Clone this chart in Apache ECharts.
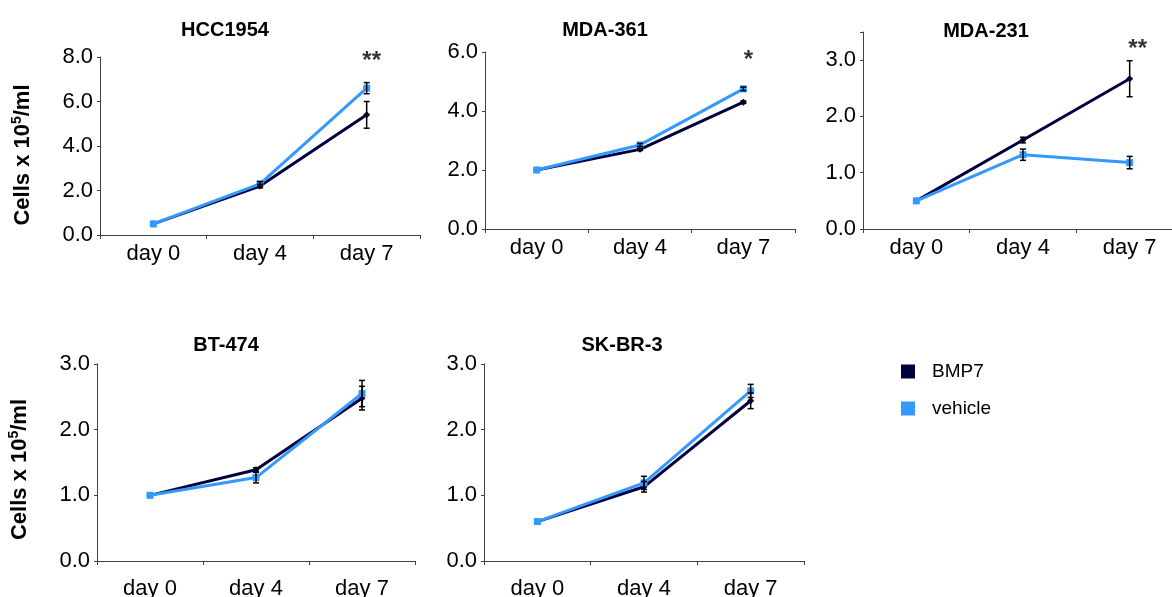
<!DOCTYPE html>
<html><head><meta charset="utf-8">
<script src="https://cdn.jsdelivr.net/npm/echarts@6/dist/echarts.min.js"></script>
<style>html,body{margin:0;padding:0;background:#fff}#c{width:1172px;height:597px}</style>
</head><body><div id="c"></div>
<script>
// ---- data ----
const categories = ['day 0', 'day 4', 'day 7'];
const panelTitles = ['HCC1954', 'MDA-361', 'MDA-231', 'BT-474', 'SK-BR-3'];
const yMax = [8, 6, 3.5, 3, 3];
const yInterval = [2, 2, 1, 1, 1];

const bmp7HCC1954 = [0.5, 2.2, 5.4];
const bmp7HCC1954Err = [0, 0.08, 0.6];
const vehicleHCC1954 = [0.5, 2.3, 6.6];
const vehicleHCC1954Err = [0, 0.1, 0.25];

const bmp7MDA361 = [2.0, 2.7, 4.3];
const bmp7MDA361Err = [0, 0.04, 0.04];
const vehicleMDA361 = [2.0, 2.85, 4.75];
const vehicleMDA361Err = [0, 0.05, 0.06];

const bmp7MDA231 = [0.5, 1.58, 2.67];
const bmp7MDA231Err = [0, 0.05, 0.32];
const vehicleMDA231 = [0.5, 1.32, 1.18];
const vehicleMDA231Err = [0, 0.1, 0.11];

const bmp7BT474 = [1.0, 1.39, 2.48];
const bmp7BT474Err = [0, 0.03, 0.18];
const vehicleBT474 = [1.0, 1.27, 2.55];
const vehicleBT474Err = [0, 0.08, 0.2];

const bmp7SKBR3 = [0.6, 1.13, 2.44];
const bmp7SKBR3Err = [0, 0.08, 0.12];
const vehicleSKBR3 = [0.6, 1.19, 2.59];
const vehicleSKBR3Err = [0, 0.1, 0.1];

// significance marks
const starPanels = [0, 1, 2];
const starTexts = ['**', '*', '**'];
const starLevels = [7.8, 5.7, 3.2];

const bmp7All = [bmp7HCC1954, bmp7MDA361, bmp7MDA231, bmp7BT474, bmp7SKBR3];
const bmp7ErrAll = [bmp7HCC1954Err, bmp7MDA361Err, bmp7MDA231Err, bmp7BT474Err, bmp7SKBR3Err];
const vehicleAll = [vehicleHCC1954, vehicleMDA361, vehicleMDA231, vehicleBT474, vehicleSKBR3];
const vehicleErrAll = [vehicleHCC1954Err, vehicleMDA361Err, vehicleMDA231Err, vehicleBT474Err, vehicleSKBR3Err];

// ---- layout / style ----
const FONT = 'Liberation Sans, Arial, sans-serif';
const C_BMP7 = '#000040';
const C_VEH = '#3399ff';
const AXIS_C = '#404040';
const grids = [
  {left: 100, top: 57, width: 320, height: 178},
  {left: 485, top: 52, width: 310, height: 177},
  {left: 863, top: 32, width: 320, height: 197},
  {left: 97, top: 364, width: 318, height: 197},
  {left: 484, top: 364, width: 320, height: 197}
];
grids.forEach(g => { g.outerBoundsMode = 'none'; g.containLabel = false; });
const titlePos = [[220, 15], [600, 15], [981, 16], [221, 330], [617, 330]];
const labelMargin = [8, 8, 8, 17, 17];
const namePad = [[0, 18, 0, 0], null, null, [0, 14, 0, 0], null];

const xAxes = [], yAxes = [], series = [], titles = [];
grids.forEach((g, i) => {
  titles.push({
    text: panelTitles[i], left: titlePos[i][0], top: titlePos[i][1], textAlign: 'center',
    textStyle: {fontFamily: FONT, fontSize: 20, fontWeight: 'bold', color: '#000'}
  });
  xAxes.push({
    type: 'category', gridIndex: i, data: categories, boundaryGap: true,
    axisLine: {lineStyle: {color: AXIS_C, width: 1}},
    axisTick: {show: true, length: 4, inside: false, lineStyle: {color: AXIS_C}},
    axisLabel: {fontFamily: FONT, fontSize: 22, color: '#000', margin: labelMargin[i], interval: 0}
  });
  const ya = {
    type: 'value', gridIndex: i, min: 0, max: yMax[i], interval: yInterval[i],
    splitLine: {show: false},
    axisLine: {show: true, lineStyle: {color: AXIS_C, width: 1}},
    axisTick: {show: true, length: 3, lineStyle: {color: AXIS_C}},
    axisLabel: {fontFamily: FONT, fontSize: 22, color: '#000', margin: 7,
      formatter: v => (Math.abs(v / yInterval[i] - Math.round(v / yInterval[i])) < 1e-6 ? v.toFixed(1) : '')}
  };
  if (i === 0 || i === 3) {
    ya.name = '{a|Cells x 10}{s|5}{a|/ml}';
    ya.nameLocation = 'middle';
    ya.nameGap = 64;
    ya.nameTextStyle = {
      padding: namePad[i],
      rich: {
        a: {fontFamily: FONT, fontSize: 22, fontWeight: 'bold', color: '#000', lineHeight: 26},
        s: {fontFamily: FONT, fontSize: 14, fontWeight: 'bold', color: '#000', lineHeight: 26, verticalAlign: 'top', padding: [0, 0, 9, 0]}
      }
    };
  }
  yAxes.push(ya);

  const mk = (name, vals, color, symbol, z) => ({
    name, type: 'line', xAxisIndex: i, yAxisIndex: i, data: vals,
    symbol, symbolSize: 7, showSymbol: true,
    lineStyle: {color, width: 3}, itemStyle: {color}, z, silent: true
  });
  series.push(mk('BMP7', bmp7All[i], C_BMP7, 'diamond', 3));
  series.push(mk('vehicle', vehicleAll[i], C_VEH, 'rect', 4));

  const errData = [];
  [[bmp7All[i], bmp7ErrAll[i]], [vehicleAll[i], vehicleErrAll[i]]].forEach(([vals, errs]) => {
    vals.forEach((v, k) => { if (errs[k] > 0) errData.push([k, v - errs[k], v + errs[k]]); });
  });
  series.push({
    type: 'custom', xAxisIndex: i, yAxisIndex: i, data: errData, z: 5, silent: true,
    renderItem: (params, api) => {
      const lo = api.coord([api.value(0), api.value(1)]);
      const hi = api.coord([api.value(0), api.value(2)]);
      const w = 3;
      const st = {stroke: '#000', lineWidth: 1.5};
      return {type: 'group', children: [
        {type: 'line', shape: {x1: lo[0], y1: lo[1], x2: hi[0], y2: hi[1]}, style: st},
        {type: 'line', shape: {x1: lo[0] - w, y1: lo[1], x2: lo[0] + w, y2: lo[1]}, style: st},
        {type: 'line', shape: {x1: hi[0] - w, y1: hi[1], x2: hi[0] + w, y2: hi[1]}, style: st}
      ]};
    }
  });
});

starPanels.forEach((p, j) => {
  series.push({
    type: 'scatter', xAxisIndex: p, yAxisIndex: p, symbolSize: 0, silent: true,
    data: [[categories[2], starLevels[j]]],
    label: {show: true, position: 'inside', formatter: starTexts[j], fontFamily: FONT,
      fontSize: 24, fontWeight: 'bold', color: '#000', offset: [p === 2 ? 8 : 5, 0]}
  });
});

const chart = echarts.init(document.getElementById('c'), null, {renderer: 'canvas'});
chart.setOption({
  animation: false,
  backgroundColor: '#fff',
  title: titles,
  grid: grids,
  xAxis: xAxes,
  yAxis: yAxes,
  legend: {
    data: ['BMP7', 'vehicle'], orient: 'vertical', left: 896, top: 357,
    icon: 'rect', itemWidth: 14, itemHeight: 14, itemGap: 18,
    textStyle: {fontFamily: FONT, fontSize: 19, color: '#000', padding: [4, 0, 0, 12]},
    selectedMode: false
  },
  series
});
</script></body></html>
